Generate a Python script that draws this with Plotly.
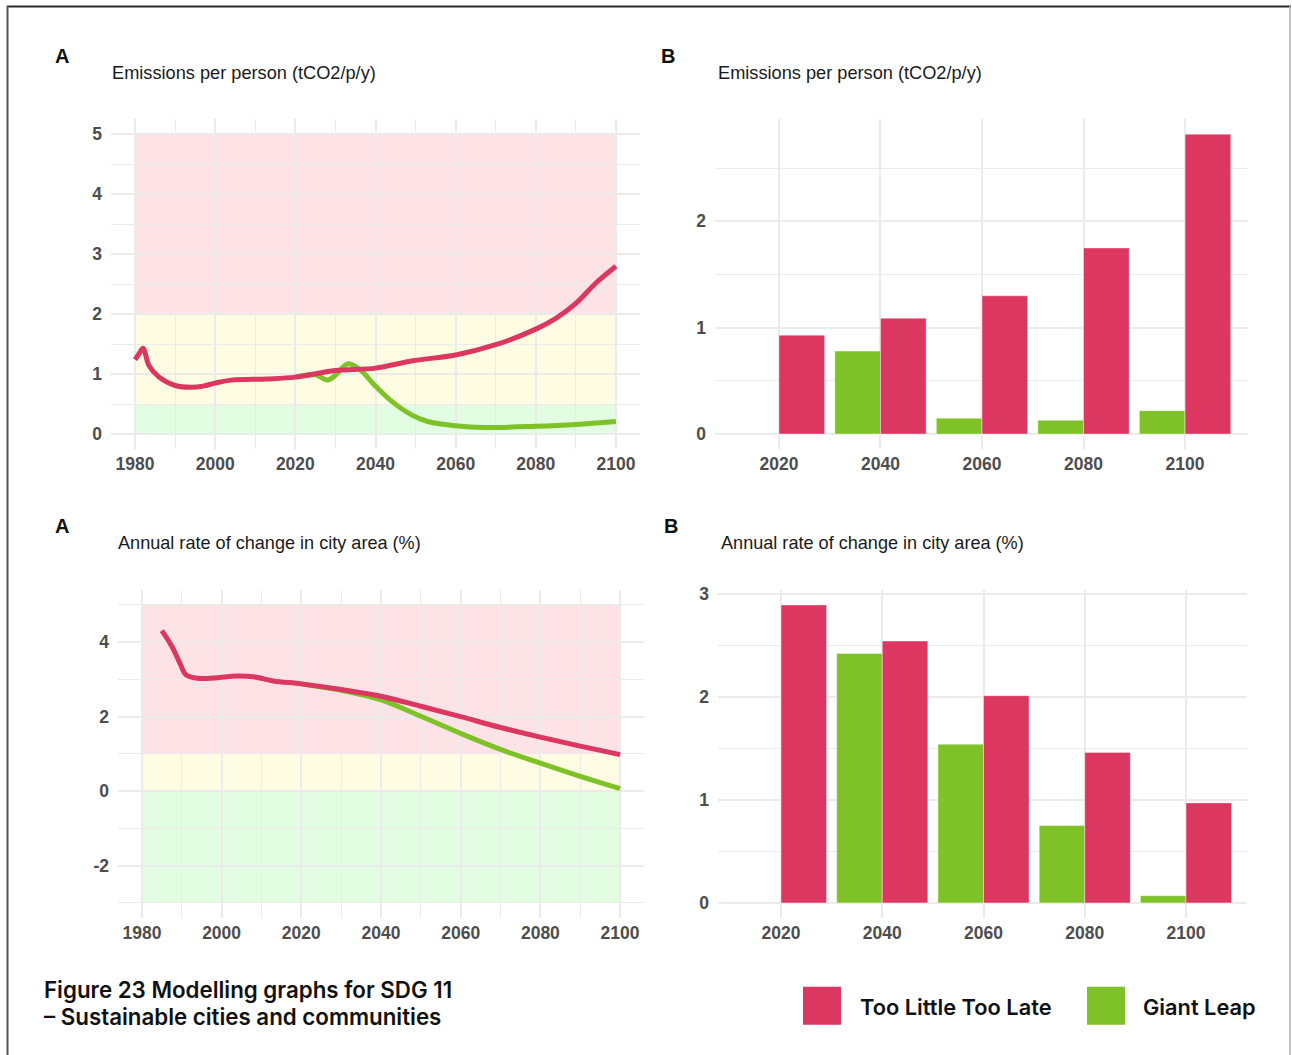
import plotly.graph_objects as go

# ---------------- data ----------------
# Emissions per person (tCO2/p/y), modelled trajectories
em_years_tltl = [1980, 1981, 1982, 1983.5, 1986, 1990, 1994, 1997, 2000, 2004,
                 2013, 2020, 2030, 2040, 2049, 2060, 2070, 2080, 2085, 2090, 2095, 2100]
em_tltl = [1.24, 1.34, 1.43, 1.14, 0.95, 0.81, 0.78, 0.80, 0.85, 0.90,
           0.92, 0.95, 1.06, 1.10, 1.22, 1.32, 1.49, 1.75, 1.93, 2.18, 2.52, 2.80]
em_years_gl = [2020, 2025, 2028, 2030, 2033, 2036, 2040, 2044, 2049, 2053,
               2060, 2067, 2080, 2090, 2100]
em_gl = [0.95, 0.99, 0.90, 0.98, 1.17, 1.08, 0.80, 0.55, 0.32, 0.21,
         0.14, 0.11, 0.13, 0.16, 0.21]

# Annual rate of change in city area (%)
ar_years_tltl = [1985, 1987.5, 1989.7, 1991, 1994, 1997, 2004, 2008, 2013, 2020,
                 2030, 2040, 2050, 2060, 2070, 2080, 2090, 2100]
ar_tltl = [4.31, 3.89, 3.40, 3.13, 3.03, 3.03, 3.09, 3.07, 2.96, 2.88,
           2.73, 2.55, 2.28, 2.00, 1.71, 1.45, 1.21, 0.98]
ar_years_gl = [2020, 2027, 2030, 2040, 2050, 2060, 2070, 2080, 2090, 2100]
ar_gl = [2.88, 2.76, 2.71, 2.45, 2.01, 1.55, 1.12, 0.75, 0.40, 0.07]

# Snapshot years for the bar panels
bar_years = [2020, 2040, 2060, 2080, 2100]
bar_years_gl = [2040, 2060, 2080, 2100]
em_bar_tltl = [0.93, 1.09, 1.30, 1.75, 2.82]
em_bar_gl = [0.78, 0.15, 0.13, 0.22]
ar_bar_tltl = [2.89, 2.54, 2.01, 1.46, 0.97]
ar_bar_gl = [2.42, 1.54, 0.75, 0.07]

# Threshold bands (low, high) for the line panels
em_bands = [(2, 5), (0.5, 2), (0, 0.5)]
ar_bands = [(1, 5), (0, 1), (-3, 0)]

line_year_ticks = [1980, 2000, 2020, 2040, 2060, 2080, 2100]
ar_line_ticks = [-2, 0, 2, 4]
ar_line_ticktext = ["-2", "0", "2", "4"]

# ---------------- styling ----------------
RED = "#DB3761"
GREEN = "#7EC227"
BAND_COLORS = ["#FDE3E5", "#FEFDE3", "#E3FDE3"]
GRID = "#EBEBEB"
TICK_FONT = dict(family="Liberation Sans, Arial, sans-serif", size=17.5, color="#4D4D4D", weight="bold")
TXT = "Liberation Sans, Arial, sans-serif"
CAP = "Inter, Liberation Sans, sans-serif"

W, H = 1292, 1055


def px(x):
    return x / W


def py(y):
    # pixel row (from top) -> paper fraction, with a small correction for the page offset
    y = (y - 4.7) / 0.9948
    return 1 - y / H


fig = go.Figure()

spline = dict(width=5, shape="spline", smoothing=1)

# line panels (green drawn first so red sits on top)
fig.add_trace(go.Scatter(x=em_years_gl, y=em_gl, mode="lines", line=dict(color=GREEN, **spline), xaxis="x", yaxis="y"))
fig.add_trace(go.Scatter(x=em_years_tltl, y=em_tltl, mode="lines", line=dict(color=RED, **spline), xaxis="x", yaxis="y"))
fig.add_trace(go.Scatter(x=ar_years_gl, y=ar_gl, mode="lines", line=dict(color=GREEN, **spline), xaxis="x3", yaxis="y3"))
fig.add_trace(go.Scatter(x=ar_years_tltl, y=ar_tltl, mode="lines", line=dict(color=RED, **spline), xaxis="x3", yaxis="y3"))

# bar panels: green on the left half of each 18-year slot, red on the right half
bar_line = dict(color="rgba(255,255,255,0.7)", width=0.6)
fig.add_trace(go.Bar(x=bar_years_gl, y=em_bar_gl, offset=-9, width=9, marker=dict(color=GREEN, line=bar_line), xaxis="x2", yaxis="y2"))
fig.add_trace(go.Bar(x=bar_years, y=em_bar_tltl, offset=0, width=9, marker=dict(color=RED, line=bar_line), xaxis="x2", yaxis="y2"))
fig.add_trace(go.Bar(x=bar_years_gl, y=ar_bar_gl, offset=-9, width=9, marker=dict(color=GREEN, line=bar_line), xaxis="x4", yaxis="y4"))
fig.add_trace(go.Bar(x=bar_years, y=ar_bar_tltl, offset=0, width=9, marker=dict(color=RED, line=bar_line), xaxis="x4", yaxis="y4"))

shapes = []
for (lo, hi), c in zip(em_bands, BAND_COLORS):
    shapes.append(dict(type="rect", xref="x", yref="y", x0=1980, x1=2100, y0=lo, y1=hi,
                       fillcolor=c, line=dict(width=0), layer="below"))
for (lo, hi), c in zip(ar_bands, BAND_COLORS):
    shapes.append(dict(type="rect", xref="x3", yref="y3", x0=1980, x1=2100, y0=lo, y1=hi,
                       fillcolor=c, line=dict(width=0), layer="below"))

# frame around the figure
shapes += [
    dict(type="line", xref="paper", yref="paper", x0=px(7), x1=px(1291), y0=0.9995, y1=0.9995, line=dict(color="#2b2b2b", width=2)),
    dict(type="line", xref="paper", yref="paper", x0=px(7.5), x1=px(7.5), y0=1, y1=0, line=dict(color="#555555", width=2)),
    dict(type="line", xref="paper", yref="paper", x0=px(1290), x1=px(1290), y0=1, y1=0, line=dict(color="#b0b0b0", width=1.5)),
]

# legend keys
shapes += [
    dict(type="rect", xref="paper", yref="paper", x0=px(803), x1=px(841), y0=py(1024), y1=py(986), fillcolor=RED, line=dict(width=0)),
    dict(type="rect", xref="paper", yref="paper", x0=px(1087), x1=px(1125), y0=py(1024), y1=py(986), fillcolor=GREEN, line=dict(width=0)),
]


def axis_common(**kw):
    d = dict(showgrid=True, gridcolor=GRID, gridwidth=1.6, zeroline=False, showline=False, ticks="",
             tickfont=TICK_FONT, layer="below traces")
    d.update(kw)
    return d


def minor(step, start):
    return dict(showgrid=True, gridcolor=GRID, gridwidth=0.8, dtick=step, tick0=start)


layout = dict(
    width=W, height=H, margin=dict(l=0, r=0, t=0, b=0),
    paper_bgcolor="white", plot_bgcolor="rgba(0,0,0,0)",
    barmode="overlay", shapes=shapes, showlegend=False,
    xaxis=axis_common(domain=[px(111), px(640)], range=[1974, 2106], tickvals=line_year_ticks,
                      minor=minor(10, 1970), anchor="y", ticklabelstandoff=2),
    yaxis=axis_common(domain=[py(448), py(118)], range=[-0.25, 5.25], tickvals=[0, 1, 2, 3, 4, 5],
                      minor=minor(0.5, 0), anchor="x", ticklabelstandoff=8),
    xaxis2=axis_common(domain=[px(715), px(1248)], range=[2007.4, 2112.4], tickvals=bar_years,
                       minor=dict(showgrid=False), anchor="y2", ticklabelstandoff=2),
    yaxis2=axis_common(domain=[py(448), py(118)], range=[-0.141, 2.96], tickvals=[0, 1, 2],
                       minor=minor(0.5, 0), anchor="x2", ticklabelstandoff=8),
    xaxis3=axis_common(domain=[px(118), px(644)], range=[1974, 2106], tickvals=line_year_ticks,
                       minor=minor(10, 1970), anchor="y3", ticklabelstandoff=3),
    yaxis3=axis_common(domain=[py(917), py(589)], range=[-3.4, 5.4], tickvals=ar_line_ticks, ticktext=ar_line_ticktext,
                       minor=minor(1, 0), anchor="x3", ticklabelstandoff=8),
    xaxis4=axis_common(domain=[px(718), px(1247)], range=[2007.55, 2112.05], tickvals=bar_years,
                       minor=dict(showgrid=False), anchor="y4", ticklabelstandoff=3),
    yaxis4=axis_common(domain=[py(917), py(589)], range=[-0.145, 3.035], tickvals=[0, 1, 2, 3],
                       minor=minor(0.5, 0), anchor="x4", ticklabelstandoff=8),
)
fig.update_layout(**layout)


def text(x, y, s, size, weight="normal", anchor="left", family=TXT, color="#1a1a1a"):
    fig.add_annotation(x=px(x), y=py(y), xref="paper", yref="paper", text=s, showarrow=False,
                       xanchor=anchor, yanchor="middle", font=dict(family=family, size=size, color=color, weight=weight))


# panel letters and titles
text(62, 55, "A", 20, "bold", "center", color="#111")
text(668, 55, "B", 20, "bold", "center", color="#111")
text(62, 525, "A", 20, "bold", "center", color="#111")
text(671, 525, "B", 20, "bold", "center", color="#111")
text(110, 72, "Emissions per person (tCO2/p/y)", 18.2)
text(716, 72, "Emissions per person (tCO2/p/y)", 18.2)
text(116, 542, "Annual rate of change in city area (%)", 18.1)
text(719, 542, "Annual rate of change in city area (%)", 18.1)

# caption
text(42, 988.5, "Figure 23 Modelling graphs for SDG 11", 22.3, 600, family=CAP, color="#111")
text(42, 1015.5, "– Sustainable cities and communities", 22.3, 600, family=CAP, color="#111")

# legend labels
text(858, 1006, "Too Little Too Late", 21.8, 600, family=CAP, color="#111")
text(1141, 1006, "Giant Leap", 21.8, 600, family=CAP, color="#111")

fig.write_html("out.html")
